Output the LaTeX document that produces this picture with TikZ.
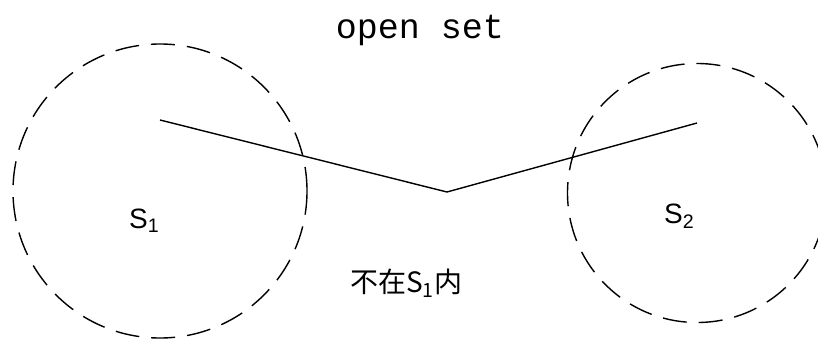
\documentclass[tikz,border=0pt]{standalone}
\usepackage{fontspec}
\setmainfont{Liberation Sans}
\newfontfamily\monofont{Liberation Mono}
\newfontfamily\cjk{Noto Sans CJK SC}
\begin{document}
\begin{tikzpicture}[x=1pt,y=-1pt,
  dashedcirc/.style={draw, circle, dash pattern=on 24pt off 12pt, line width=1.4pt, inner sep=0pt},
  pathline/.style={line width=1.4pt},
  lbl/.style={inner sep=0pt, anchor=base west, font=\fontsize{28}{30}\selectfont}]
\useasboundingbox (0,0) rectangle (818,340);
\clip (0,0) rectangle (818,340);
\fill[white] (0,0) rectangle (818,340);
\node[dashedcirc, minimum size=294pt] (c1) at (160,191) {};
\node[dashedcirc, minimum size=259pt] (c2) at (697,193) {};
\coordinate (a) at (160,120);
\coordinate (v) at (447,192);
\coordinate (b) at (697,123);
\draw[pathline] (a) -- (v) -- (b);
\node[inner sep=0pt, anchor=base, font=\monofont\fontsize{35}{38}\selectfont] (title) at (420,38) {open set};
\node[lbl] (s1) at (129,228) {S\textsubscript{1}};
\node[lbl] (s2) at (664,223) {S\textsubscript{2}};
\node[lbl] (note) at (350,292) {\cjk 不在S\textsubscript{1}内};
\end{tikzpicture}
\end{document}
